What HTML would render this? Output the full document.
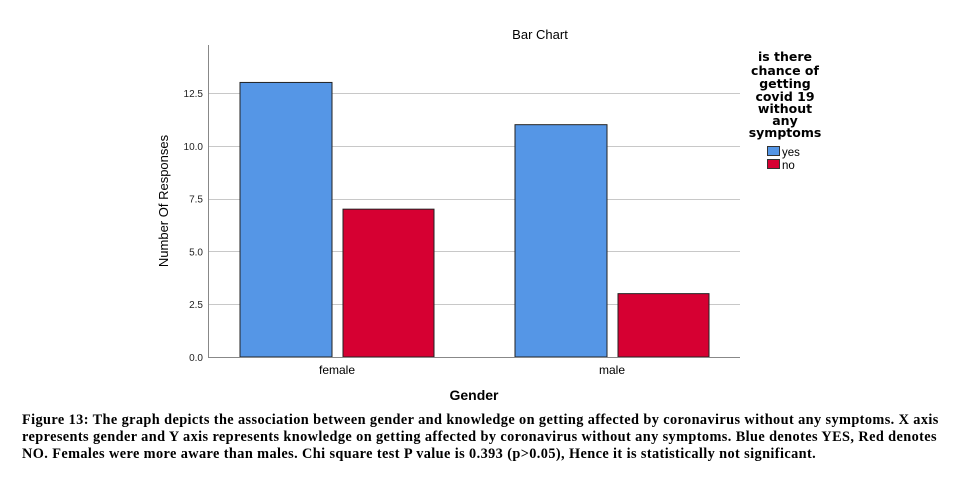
<!DOCTYPE html>
<html><head><meta charset="utf-8"><style>
body{margin:0;background:#fff;width:958px;height:477px;overflow:hidden}
svg{position:absolute;left:0;top:0}
.cap{position:absolute;left:22px;top:412px;width:935px;font-family:"Liberation Serif",serif;font-weight:bold;font-size:14.3px;letter-spacing:0.4px;line-height:17px;color:#000}
</style></head><body>
<svg width="958" height="410" font-family="Liberation Sans, sans-serif">
<text x="540" y="39" text-anchor="middle" font-size="13">Bar Chart</text>
<g id="grid"></g>
<g id="bars"></g>
<line x1="208.5" y1="45" x2="208.5" y2="357" stroke="#888"/>
<line x1="208" y1="357.5" x2="740" y2="357.5" stroke="#888"/>
<text transform="translate(168,201) rotate(-90)" text-anchor="middle" font-size="13">Number Of Responses</text>
<text x="474" y="400" text-anchor="middle" font-size="14" font-weight="bold">Gender</text>
<g font-weight="bold" font-size="12.5" font-family="DejaVu Sans, sans-serif" text-anchor="middle">
<text x="785" y="61">is there</text><text x="785" y="75">chance of</text><text x="785" y="88">getting</text><text x="785" y="101">covid 19</text><text x="785" y="113">without</text><text x="785" y="125">any</text><text x="785" y="137">symptoms</text>
</g>
<g><rect x="767.5" y="146.5" width="12" height="9" fill="#5596e6" stroke="#333"/><text x="782" y="156" font-size="11.5">yes</text></g>
<g><rect x="767.5" y="159.5" width="12" height="9" fill="#d60032" stroke="#333"/><text x="782" y="169" font-size="11.5">no</text></g>
</svg>
<div class="cap">Figure 13: The graph depicts the association between gender and knowledge on getting affected by coronavirus without any symptoms. X axis represents gender and Y axis represents knowledge on getting affected by coronavirus without any symptoms. Blue denotes YES, Red denotes NO. Females were more aware than males. Chi square test P value is 0.393 (p&gt;0.05), Hence it is statistically not significant.</div>
<script>
const categories=["female","male"];
const yesValues=[13,11];
const noValues=[7,3];
const yTicks=[0,2.5,5,7.5,10,12.5];
const NS="http://www.w3.org/2000/svg";
const y=v=>357-v*21.12;
const catX=i=>337+i*275;
function mk(t,a,p){const e=document.createElementNS(NS,t);for(const k in a)e.setAttribute(k,a[k]);p.appendChild(e);return e;}
const grid=document.getElementById('grid'),bars=document.getElementById('bars');
yTicks.forEach(v=>{
 if(v>0){const l=mk('line',{x1:208,x2:740,y1:Math.round(y(v))+.5,y2:Math.round(y(v))+.5,stroke:'#c8c8c8'},grid);
 
 }
 const t=mk('text',{x:203,y:y(v)+4,'text-anchor':'end','font-size':10,fill:'#222'},grid);t.textContent=v.toFixed(1);
 
 
});
categories.forEach((c,i)=>{
 const cx=catX(i);
 const b1=mk('rect',{x:cx-97,y:y(yesValues[i]),width:92,height:357-y(yesValues[i]),fill:'#5596e6',stroke:'#222','stroke-width':1},bars);
 
 
 const b2=mk('rect',{x:cx+6,y:y(noValues[i]),width:91,height:357-y(noValues[i]),fill:'#d60032',stroke:'#222','stroke-width':1},bars);
 
 
 const t=mk('text',{x:cx,y:374,'text-anchor':'middle','font-size':12},bars);t.textContent=c;
 
 
});
</script>
</body></html>
